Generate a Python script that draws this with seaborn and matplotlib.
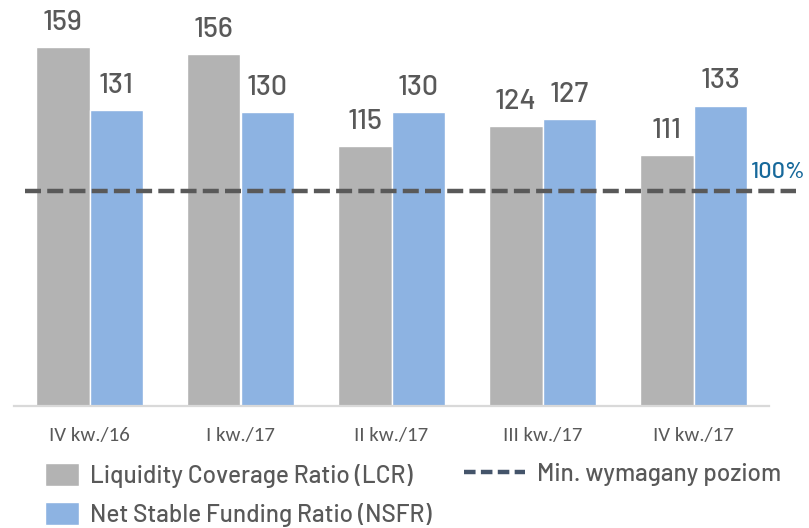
import matplotlib
matplotlib.use("Agg")
import numpy as np
import pandas as pd
import matplotlib.pyplot as plt
import seaborn as sns
from matplotlib.patches import Patch
from matplotlib.lines import Line2D

# ---------- data ----------
quarters = ['IV kw./16', 'I kw./17', 'II kw./17', 'III kw./17', 'IV kw./17']
lcr = [159, 156, 115, 124, 111]
nsfr = [131, 130, 130, 127, 133]
min_level = 100

series_names = ['Liquidity Coverage Ratio (LCR)', 'Net Stable Funding Ratio (NSFR)']
line_name = 'Min. wymagany poziom'

sns.set_style("white")
NUM_FONT = ['Barlow', 'DejaVu Sans']
TICK_FONT = ['Carlito', 'DejaVu Sans']
plt.rcParams['font.family'] = NUM_FONT
plt.rcParams['font.weight'] = 500

GRAY = '#B3B3B3'
BLUE = '#8DB3E2'
TXT = '#595959'

df = pd.DataFrame({
    'quarter': quarters * 2,
    'value': lcr + nsfr,
    'series': [series_names[0]] * len(lcr) + [series_names[1]] * len(nsfr),
})

fig = plt.figure(figsize=(8.09, 5.28), dpi=100)
ax = fig.add_axes([14 / 809, 122 / 528, 755 / 809, 384 / 528])

sns.barplot(data=df, x='quarter', y='value', hue='series', order=quarters,
            hue_order=series_names, palette=[GRAY, BLUE], saturation=1,
            width=0.71, edgecolor='white', linewidth=1, legend=False, ax=ax)

top = 170
ax.set_ylim(0, top)
ax.set_xlim(-0.5, 4.5)
ax.set_xlabel('')
ax.set_ylabel('')
ax.set_yticks([])
for s in ['top', 'right', 'left']:
    ax.spines[s].set_visible(False)
ax.spines['bottom'].set_color('#D9D9D9')
ax.spines['bottom'].set_linewidth(1.6)
ax.tick_params(axis='x', length=0, pad=15)
for lbl in ax.get_xticklabels():
    lbl.set_fontfamily(TICK_FONT)
    lbl.set_fontsize(15)
    lbl.set_fontweight('normal')
    lbl.set_color(TXT)

for container in ax.containers:
    ax.bar_label(container, fmt='%d', padding=8, fontsize=20.5, color=TXT)

# min. level line sits on a secondary scale (as in the source chart)
ax2 = ax.twinx()
ax2.set_ylim(0, top * 100 / 95)
ax2.set_yticks([])
for s in ax2.spines.values():
    s.set_visible(False)
ax2.axhline(min_level, xmin=0.015, xmax=1.036, color=TXT, lw=3.2,
            dashes=(3.6, 1.4), clip_on=False)
ax2.annotate(f'{min_level}%', xy=(1.049, min_level),
             xycoords=('axes fraction', 'data'), xytext=(0, 7),
             textcoords='offset points', ha='right', va='bottom',
             fontsize=17, color='#17699B', annotation_clip=False)

# ---------- legends ----------
bar_handles = [Patch(facecolor=GRAY, edgecolor='white'),
               Patch(facecolor=BLUE, edgecolor='white')]
leg1 = fig.legend(bar_handles, series_names, loc='upper left',
                  bbox_to_anchor=(45 / 809, 1 - 463 / 528), frameon=False,
                  fontsize=17.5, handlelength=1.4, handleheight=1.05,
                  handletextpad=0.45, labelspacing=0.6, borderpad=0,
                  borderaxespad=0, labelcolor=TXT)
line_handle = [Line2D([], [], color='#44546A', lw=3.2, dashes=(2.6, 1.2))]
leg2 = fig.legend(line_handle, [line_name], loc='upper left',
                  bbox_to_anchor=(464 / 809, 1 - 463 / 528), frameon=False,
                  fontsize=17.5, handlelength=2.5, handletextpad=0.5,
                  borderpad=0, borderaxespad=0, labelcolor=TXT)

fig.savefig('out.png', dpi=100)
